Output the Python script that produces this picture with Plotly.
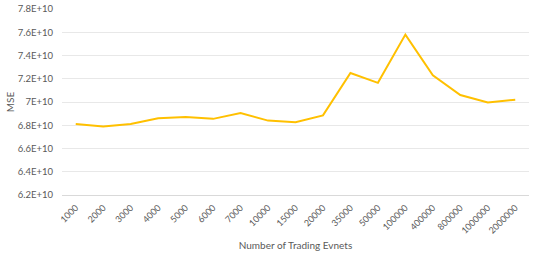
import plotly.graph_objects as go

categories = ["1000", "2000", "3000", "4000", "5000", "6000", "7000", "10000", "15000",
              "20000", "35000", "50000", "100000", "400000", "800000", "1000000", "2000000"]
mse = [6.81e10, 6.79e10, 6.81e10, 6.86e10, 6.87e10, 6.855e10, 6.905e10, 6.84e10, 6.825e10,
       6.885e10, 7.25e10, 7.165e10, 7.58e10, 7.23e10, 7.06e10, 6.995e10, 7.02e10]
y_ticks = [6.2e10, 6.4e10, 6.6e10, 6.8e10, 7.0e10, 7.2e10, 7.4e10, 7.6e10, 7.8e10]
y_ticktext = ["6.2E+10", "6.4E+10", "6.6E+10", "6.8E+10", "7E+10", "7.2E+10", "7.4E+10", "7.6E+10", "7.8E+10"]

fig = go.Figure()
fig.add_trace(go.Scatter(x=categories, y=mse, mode="lines",
                         line=dict(color="#FFC000", width=2)))

font = "Lato, 'Open Sans', sans-serif"
fig.update_layout(
    width=540, height=255,
    margin=dict(l=62, r=11, t=9, b=60),
    paper_bgcolor="white", plot_bgcolor="white",
    showlegend=False,
    font=dict(family=font, size=9, color="#595959"),
    xaxis=dict(type="category", tickangle=-45, showgrid=False, automargin=False,
               range=[-0.5, len(categories) - 0.5],
               showline=True, linecolor="#D9D9D9", linewidth=1,
               ticks="", ticklabelstandoff=3,
               title=dict(text="Number of Trading Evnets", font=dict(size=10, color="#595959"), standoff=7),
               tickfont=dict(size=9, color="#595959")),
    yaxis=dict(range=[6.2e10, 7.8e10], tickvals=y_ticks, ticktext=y_ticktext, automargin=False,
               showgrid=True, gridcolor="#E8E8E8", gridwidth=1, zeroline=False,
               showline=False, ticks="", ticklabelstandoff=8, ticklabeloverflow="allow",
               title=dict(text="MSE", font=dict(size=10, color="#595959"), standoff=1),
               tickfont=dict(size=9.5, color="#595959")),
)

fig.write_html("out.html",
               config={"displayModeBar": False},
               post_script="document.body.style.margin='0';document.body.style.overflow='hidden';")
